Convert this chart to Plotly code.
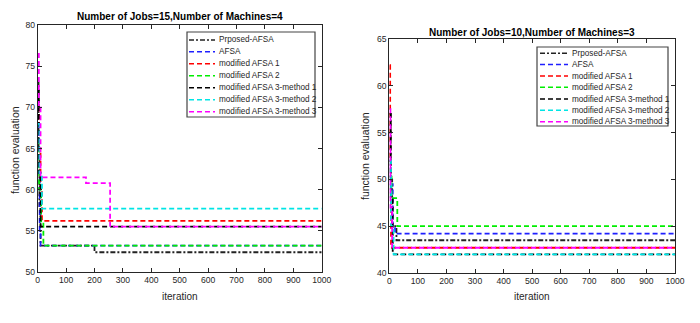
import plotly.graph_objects as go

OUT = "out.html"

NAMES = ["Prposed-AFSA", "AFSA", "modified AFSA 1", "modified AFSA 2",
         "modified AFSA 3-method 1", "modified AFSA 3-method 2",
         "modified AFSA 3-method 3"]
COLORS = ["#222222", "#1f1fff", "#ff0000", "#00ee00", "#000000", "#00e5e5", "#ff00ff"]
DASHES = ["5px,2px,2px,2px", "5px,3px", "5px,3px", "5px,3px", "5px,3px", "5px,3px", "5px,3px"]

# panel 1: 15 jobs, 4 machines (step curves: iteration where value starts, value)
j15_iter = [
    [1, 3, 6, 10, 200, 1000],
    [1, 4, 7, 10, 1000],
    [1, 5, 10, 15, 1000],
    [1, 5, 12, 20, 1000],
    [1, 4, 10, 1000],
    [1, 6, 15, 1000],
    [1, 4, 10, 170, 255, 1000],
]
j15_val = [
    [73, 65, 58, 53.2, 52.4, 52.4],
    [68, 62, 55, 53.2, 53.2],
    [70, 65, 60, 56.2, 56.2],
    [66, 60, 56, 53.2, 53.2],
    [72, 62, 55.5, 55.5],
    [68, 62, 57.7, 57.7],
    [76.5, 70, 61.5, 60.8, 55.5, 55.5],
]

# panel 2: 10 jobs, 3 machines
j10_iter = [
    [1, 5, 10, 25, 1000],
    [1, 5, 12, 20, 1000],
    [1, 3, 6, 1000],
    [1, 8, 28, 1000],
    [1, 5, 12, 1000],
    [1, 6, 15, 1000],
    [1, 4, 10, 1000],
]
j10_val = [
    [57, 50, 45, 43.5, 43.5],
    [52, 49.5, 45, 44.2, 44.2],
    [62.2, 52, 42.7, 42.7],
    [50.3, 48, 45, 45],
    [57, 48, 42, 42],
    [52, 45, 42, 42],
    [57.5, 47, 42.7, 42.7],
]

W, H = 700, 323
FONT = "Arial, Liberation Sans, sans-serif"
INK = "#262626"

fig = go.Figure()
for k in range(7):
    fig.add_trace(go.Scatter(x=j15_iter[k], y=j15_val[k], mode="lines", name=NAMES[k],
                             line=dict(color=COLORS[k], dash=DASHES[k], width=1.8, shape="hv"),
                             xaxis="x", yaxis="y"))
for k in range(7):
    fig.add_trace(go.Scatter(x=j10_iter[k], y=j10_val[k], mode="lines", name=NAMES[k],
                             line=dict(color=COLORS[k], dash=DASHES[k], width=1.8, shape="hv"),
                             xaxis="x2", yaxis="y2"))

ax = dict(showline=True, linecolor=INK, linewidth=1, mirror="ticks", ticks="inside",
          ticklen=4, tickcolor=INK, showgrid=False, zeroline=False, automargin=False,
          tickfont=dict(family=FONT, size=8.6, color=INK))
fig.update_layout(
    xaxis=dict(ax, domain=[37.7 / W, 321.7 / W], range=[0, 1000], dtick=100, anchor="y"),
    yaxis=dict(ax, domain=[1 - 272 / H, 1 - 25 / H], range=[50, 80], dtick=5, anchor="x"),
    xaxis2=dict(ax, domain=[389.3 / W, 675 / W], range=[0, 1000], dtick=100, anchor="y2"),
    yaxis2=dict(ax, domain=[1 - 273 / H, 1 - 39 / H], range=[40, 65], dtick=5, anchor="x2"),
)


def px(x, y):
    return x / W, 1 - y / H


def txt(x, y, s, size=11, bold=False, angle=0, xanchor="center"):
    xx, yy = px(x, y)
    fig.add_annotation(x=xx, y=yy, xref="paper", yref="paper",
                       text=f"<b>{s}</b>" if bold else s,
                       showarrow=False, textangle=angle, xanchor=xanchor, yanchor="middle",
                       font=dict(family=FONT, size=size, color="black" if bold else INK))


# hand-drawn legends (plotly's legend rows are too tall for this layout)
def legend(x0, y0, x1, y1, rows, l0, l1):
    a, b = px(x0, y0)
    c, d = px(x1, y1)
    fig.add_shape(type="rect", xref="paper", yref="paper", x0=a, y0=d, x1=c, y1=b,
                  line=dict(color="#444444", width=1.2), fillcolor="white", layer="above")
    for k, ry in enumerate(rows):
        p, q = px(l0, ry)
        r, _ = px(l1, ry)
        fig.add_shape(type="line", xref="paper", yref="paper", x0=p, y0=q, x1=r, y1=q,
                      line=dict(color=COLORS[k], dash=DASHES[k], width=1.6), layer="above")
        txt(l1 + 2, ry, NAMES[k], size=8.2, xanchor="left")


legend(187, 32, 315, 117, [40, 51.7, 63.7, 75.7, 87.7, 99.7, 111.7], 189, 215)
legend(537, 47, 668, 126, [53.3, 64.5, 76, 87.3, 99, 110.3, 121.7], 540, 568)

txt(179.7, 16, "Number of Jobs=15,Number of Machines=4", size=10, bold=True)
txt(532, 32, "Number of Jobs=10,Number of Machines=3", size=10, bold=True)
txt(179.7, 296, "iteration", size=10)
txt(532, 296, "iteration", size=10)
txt(15, 150, "function evaluation", size=10.5, angle=-90)
txt(365, 156, "function evaluation", size=10.5, angle=-90)

fig.update_layout(width=W, height=H, margin=dict(l=0, r=0, t=0, b=0),
                  plot_bgcolor="white", paper_bgcolor="white", showlegend=False)
fig.write_html(OUT, config={"displayModeBar": False},
               post_script="document.body.style.margin='0';")
